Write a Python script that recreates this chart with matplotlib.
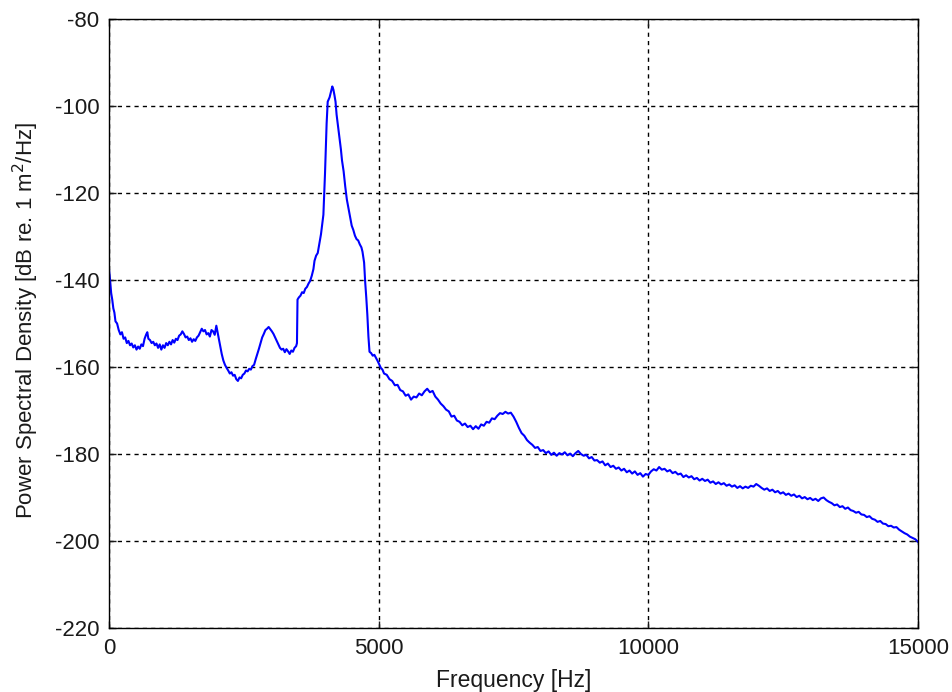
import matplotlib
matplotlib.use('Agg')
import matplotlib.pyplot as plt

# frequency axis in Hz and measured PSD in dB re. 1 m^2/Hz
freq_hz = [
    0, 20, 40, 60, 80, 100, 120, 150, 180, 210, 240, 270, 300, 330, 360, 390,
    420, 450, 480, 510, 540, 570, 600, 630, 660, 690, 710, 730, 760, 790, 820,
    850, 880, 910, 940, 970, 1000, 1030, 1060, 1090, 1120, 1150, 1180, 1210,
    1240, 1270, 1300, 1330, 1360, 1390, 1420, 1450, 1480, 1510, 1540, 1570,
    1600, 1630, 1660, 1690, 1720, 1750, 1780, 1810, 1840, 1870, 1900, 1930,
    1960, 1990, 2010, 2030, 2060, 2090, 2120, 2150, 2180, 2210, 2240, 2270,
    2300, 2330, 2360, 2390, 2420, 2450, 2480, 2510, 2540, 2570, 2600, 2630,
    2660, 2690, 2720, 2750, 2780, 2810, 2840, 2870, 2900, 2930, 2960, 2990,
    3020, 3050, 3080, 3110, 3140, 3170, 3200, 3230, 3260, 3290, 3320, 3350,
    3380, 3410, 3440, 3470, 3485, 3495, 3520, 3550, 3580, 3610, 3640, 3670,
    3700, 3730, 3760, 3790, 3810, 3840, 3870, 3900, 3930, 3955, 3975, 3990,
    4005, 4020, 4035, 4055, 4090, 4120, 4140, 4160, 4180, 4200, 4220, 4245,
    4270, 4300, 4320, 4350, 4380, 4410, 4440, 4470, 4500, 4530, 4560, 4590,
    4620, 4650, 4680, 4700, 4730, 4750, 4770, 4790, 4810, 4830, 4860, 4890,
    4920, 4950, 4980, 5010, 5040, 5070, 5100, 5150, 5200, 5250, 5300, 5350,
    5400, 5450, 5500, 5550, 5600, 5650, 5700, 5750, 5800, 5850, 5900, 5950,
    6000, 6050, 6100, 6150, 6200, 6250, 6300, 6350, 6400, 6450, 6500, 6550,
    6600, 6650, 6700, 6750, 6800, 6850, 6900, 6950, 7000, 7050, 7100, 7150,
    7200, 7250, 7300, 7350, 7400, 7450, 7500, 7550, 7600, 7650, 7700, 7750,
    7800, 7850, 7900, 7950, 8000, 8050, 8100, 8150, 8200, 8250, 8300, 8350,
    8400, 8450, 8500, 8550, 8600, 8650, 8700, 8750, 8800, 8850, 8900, 8950,
    9000, 9050, 9100, 9150, 9200, 9250, 9300, 9350, 9400, 9450, 9500, 9550,
    9600, 9650, 9700, 9750, 9800, 9850, 9900, 9950, 10000, 10050, 10100,
    10150, 10200, 10250, 10300, 10350, 10400, 10450, 10500, 10550, 10600,
    10650, 10700, 10750, 10800, 10850, 10900, 10950, 11000, 11050, 11100,
    11150, 11200, 11250, 11300, 11350, 11400, 11450, 11500, 11550, 11600,
    11650, 11700, 11750, 11800, 11850, 11900, 11950, 12000, 12050, 12100,
    12150, 12200, 12250, 12300, 12350, 12400, 12450, 12500, 12550, 12600,
    12650, 12700, 12750, 12800, 12850, 12900, 12950, 13000, 13050, 13100,
    13150, 13200, 13250, 13300, 13350, 13400, 13450, 13500, 13550, 13600,
    13650, 13700, 13750, 13800, 13850, 13900, 13950, 14000, 14050, 14100,
    14150, 14200, 14250, 14300, 14350, 14400, 14450, 14500, 14550, 14600,
    14650, 14700, 14750, 14800, 14850, 14900, 14950, 15000,
]

psd_db = [
    -137.5, -140, -143, -144.5, -146.5, -147.5, -149.5, -150, -151.5, -152.5,
    -152, -153.5, -153.2, -154.5, -154, -155, -154.6, -155.5, -155, -156,
    -155.3, -155.8, -154.8, -155.2, -153.5, -152.5, -152, -153.5, -153.8,
    -154.5, -154.2, -155, -154.6, -155.6, -154.8, -156, -155, -155.6, -154.5,
    -155, -154.2, -154.8, -153.8, -154.4, -153.5, -153.8, -152.8, -152.5,
    -151.8, -152.4, -153.2, -153, -153.8, -153.4, -154.2, -153.6, -154,
    -153.2, -152.8, -152, -151.2, -151.8, -151.5, -152.5, -152.2, -153,
    -151.5, -151.8, -152.6, -150.5, -151.8, -153, -155, -157, -158.5, -159.5,
    -160.2, -160.8, -161.5, -161.2, -162, -161.8, -162.8, -163.2, -162.4,
    -162.6, -161.8, -161.5, -160.8, -161, -160.4, -160.6, -159.8, -159.5,
    -158.2, -157, -155.8, -154.5, -153.2, -152.4, -151.5, -151.2, -150.8,
    -151.3, -151.8, -152.4, -153.2, -154, -154.8, -155.6, -156, -155.8,
    -156.6, -155.9, -156.4, -157, -156.2, -156.5, -155.6, -155.2, -154.5,
    -144.5, -144, -143.6, -142.8, -143, -142, -141.6, -140.8, -140.2, -139,
    -137.5, -135.6, -134.4, -133.8, -131.6, -129.5, -127, -125, -120.5,
    -115.5, -110, -104, -99, -98, -96.5, -95.5, -96.2, -97.5, -99, -102,
    -104.5, -107, -110, -112.5, -115, -118.5, -121.5, -123.5, -125.5, -127.5,
    -128.5, -129.8, -130.6, -130.9, -131.8, -132.5, -133.5, -136, -140.5,
    -144, -148, -153, -156.5, -156.8, -157.4, -157.2, -157.9, -158.6, -159.4,
    -160.2, -160.6, -161.5, -161.8, -162.8, -163.2, -164.2, -164.1, -165.3,
    -165.6, -166.6, -166.3, -167.5, -166.8, -167, -166.1, -166.5, -165.6,
    -165, -165.8, -165.5, -166.8, -167.5, -168.4, -169, -169.8, -170.2,
    -171.4, -171.2, -172.3, -172.6, -173.4, -173, -173.8, -173.5, -174.3,
    -173.6, -174.2, -173.2, -173.5, -172.6, -172.8, -171.8, -172, -171.2,
    -170.6, -170.8, -170.3, -170.7, -170.5, -171.4, -172.6, -174, -175.2,
    -175.8, -176.8, -177.4, -177.9, -178.6, -178.4, -179.3, -179.1, -179.8,
    -179.4, -180.2, -179.7, -180.4, -179.8, -180.1, -179.6, -180.3, -179.9,
    -180.5, -179.8, -179.3, -180, -180.4, -180.2, -181, -180.7, -181.5,
    -181.4, -182, -181.7, -182.6, -182.2, -183, -182.7, -183.4, -183.1,
    -183.8, -183.4, -184.2, -183.8, -184.5, -184, -184.8, -184.4, -185.2,
    -184.6, -184.8, -184, -183.5, -183.8, -183, -183.6, -183.4, -184, -183.7,
    -184.4, -184.1, -184.7, -184.5, -185.3, -184.9, -185.4, -185.1, -185.8,
    -185.5, -186.1, -185.7, -186.2, -185.9, -186.6, -186.3, -186.9, -186.5,
    -187, -186.7, -187.3, -187, -187.5, -187.2, -187.8, -187.4, -187.9,
    -187.5, -187.8, -187.3, -187.5, -186.9, -187.3, -187.8, -188.2, -187.9,
    -188.5, -188.2, -188.8, -188.5, -189.1, -188.8, -189.4, -189.1, -189.6,
    -189.3, -189.9, -189.6, -190.2, -189.9, -190.4, -190.1, -190.6, -190.3,
    -190.8, -190.2, -190, -190.6, -191, -191.3, -191.8, -191.6, -192.2, -192,
    -192.6, -192.3, -192.9, -193.1, -193.5, -193.3, -193.9, -194, -194.5,
    -194.3, -194.9, -195.1, -195.6, -195.4, -196, -196.1, -196.6, -196.5,
    -196.9, -196.8, -197.4, -197.8, -198.2, -198.5, -199, -199.3, -199.6,
    -200.2,
]

x_ticks = [0, 5000, 10000, 15000]
y_ticks = [-220, -200, -180, -160, -140, -120, -100, -80]

plt.rcParams['font.family'] = ['Liberation Sans', 'DejaVu Sans']

fig = plt.figure(figsize=(9.52, 6.92), dpi=100)
ax = fig.add_axes([0.1145, 0.0925, 0.8498, 0.880])

ax.plot(freq_hz, psd_db, color='#0000ff', linewidth=1.5)

ax.set_xlim(0, 15000)
ax.set_ylim(-220, -80)
ax.set_xticks(x_ticks)
ax.set_yticks(y_ticks)
ax.set_xticklabels([str(t) for t in x_ticks])
ax.set_yticklabels([str(t) for t in y_ticks])

ax.grid(True, color='black', linestyle=(0, (3, 3)), linewidth=1.0)
ax.tick_params(direction='in', length=5, width=1, top=True, right=True,
               labelsize=16, pad=7, colors='#1a1a1a')
for spine in ax.spines.values():
    spine.set_linewidth(1.0)

ax.set_xlabel('Frequency [Hz]', fontsize=16.5, color='#1a1a1a')
ax.set_ylabel('Power Spectral Density [dB re. 1 m$^2$/Hz]', fontsize=16,
              color='#1a1a1a')
ax.xaxis.set_label_coords(0.5, -0.067)
ax.yaxis.set_label_coords(-0.084, 0.505)

fig.savefig('out.png', dpi=100)
